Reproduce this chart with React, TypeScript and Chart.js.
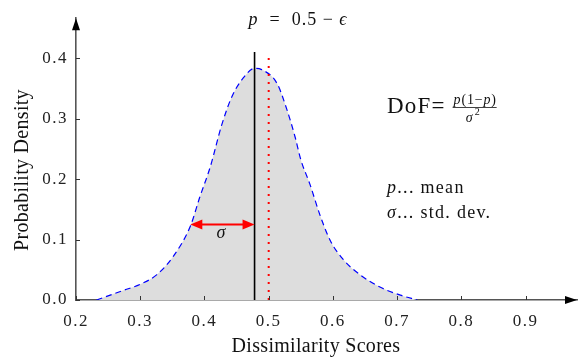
import React, { useEffect, useRef } from "react";
import { Chart, registerables } from "chart.js";

Chart.register(...registerables);

const curveX = [0.232, 0.274, 0.3, 0.326, 0.352, 0.378, 0.393, 0.409, 0.427, 0.443, 0.461, 0.478, 0.489, 0.513, 0.528, 0.541, 0.55, 0.564, 0.58, 0.596, 0.616, 0.642, 0.674, 0.705, 0.731];
const curveY = [0, 0.016, 0.026, 0.042, 0.073, 0.122, 0.171, 0.22, 0.29, 0.337, 0.368, 0.383, 0.381, 0.358, 0.316, 0.27, 0.232, 0.192, 0.14, 0.098, 0.067, 0.042, 0.021, 0.008, 0];
const xTickValues = [0.2, 0.3, 0.4, 0.5, 0.6, 0.7, 0.8, 0.9];
const yTickValues = [0, 0.1, 0.2, 0.3, 0.4];
const meanP = 0.478;
const meanTop = 0.41;
const refP = 0.5;
const refTop = 0.4;
const sigmaVal = 0.1;
const sigmaArrowY = 0.125;

const FONT = "'Liberation Serif', 'Times New Roman', serif";

export default function App() {
  const ref = useRef<HTMLCanvasElement | null>(null);

  useEffect(() => {
    if (!ref.current) return;
    const spacing = {
      id: "spacing",
      beforeDraw(chart: any) {
        (chart.ctx as any).letterSpacing = "1.5px";
      },
    };
    const annot = {
      id: "annot",
      afterDraw(chart: any) {
        const ctx = chart.ctx as any;
        const xs = chart.scales.x;
        const ys = chart.scales.y;
        const a = chart.chartArea;
        ctx.save();
        ctx.letterSpacing = "0px";
        // inward tick marks
        ctx.strokeStyle = "#333";
        ctx.lineWidth = 1;
        xTickValues.forEach((v) => {
          const px = Math.round(xs.getPixelForValue(v)) + 0.5;
          ctx.beginPath();
          ctx.moveTo(px, a.bottom);
          ctx.lineTo(px, a.bottom - 4);
          ctx.stroke();
        });
        yTickValues.forEach((v) => {
          const py = Math.round(ys.getPixelForValue(v)) + 0.5;
          ctx.beginPath();
          ctx.moveTo(a.left, py);
          ctx.lineTo(a.left + 4, py);
          ctx.stroke();
        });
        // axis arrows
        ctx.fillStyle = "#000";
        ctx.beginPath();
        ctx.moveTo(a.right, a.bottom);
        ctx.lineTo(a.right - 12, a.bottom - 4);
        ctx.lineTo(a.right - 12, a.bottom + 4);
        ctx.closePath();
        ctx.fill();
        ctx.beginPath();
        ctx.moveTo(a.left, a.top);
        ctx.lineTo(a.left - 4, a.top + 12);
        ctx.lineTo(a.left + 4, a.top + 12);
        ctx.closePath();
        ctx.fill();
        // sigma arrow
        const x1 = xs.getPixelForValue(meanP - sigmaVal);
        const x2 = xs.getPixelForValue(meanP);
        const ya = ys.getPixelForValue(sigmaArrowY);
        ctx.strokeStyle = "#ff0000";
        ctx.fillStyle = "#ff0000";
        ctx.lineWidth = 2;
        ctx.beginPath();
        ctx.moveTo(x1 + 8, ya);
        ctx.lineTo(x2 - 8, ya);
        ctx.stroke();
        ctx.beginPath();
        ctx.moveTo(x1, ya);
        ctx.lineTo(x1 + 12, ya - 5);
        ctx.lineTo(x1 + 12, ya + 5);
        ctx.closePath();
        ctx.fill();
        ctx.beginPath();
        ctx.moveTo(x2, ya);
        ctx.lineTo(x2 - 12, ya - 5);
        ctx.lineTo(x2 - 12, ya + 5);
        ctx.closePath();
        ctx.fill();
        // texts
        ctx.fillStyle = "#111";
        ctx.textBaseline = "alphabetic";
        ctx.textAlign = "left";
        const seq = (x: number, y: number, parts: [string, string][], ls = "1px") => {
          let cx = x;
          ctx.letterSpacing = ls;
          parts.forEach(([t, f]) => {
            ctx.font = f;
            ctx.fillText(t, cx, y);
            cx += ctx.measureText(t).width;
          });
          return cx;
        };
        const it17 = `italic 18px ${FONT}`;
        const rm17 = `18px ${FONT}`;
        // sigma label
        seq((x1 + x2) / 2 - 6, ya + 14, [["σ", it17]]);
        // top label
        seq(xs.getPixelForValue(meanP) - 6, 25, [["p", it17], ["  =  0.5 − ", rm17], ["ϵ", it17]]);
        // DoF
        const dEnd = seq(387, 113, [["DoF", `23px ${FONT}`], ["= ", `23px ${FONT}`]], "1.2px");
        const nEnd = seq(dEnd + 1, 104, [["p", `italic 14px ${FONT}`], ["(1−", `14px ${FONT}`], ["p", `italic 14px ${FONT}`], [")", `14px ${FONT}`]], "0.8px");
        ctx.strokeStyle = "#111";
        ctx.lineWidth = 0.8;
        ctx.beginPath();
        ctx.moveTo(dEnd, 107.5);
        ctx.lineTo(nEnd, 107.5);
        ctx.stroke();
        const mid = (dEnd + nEnd) / 2;
        seq(mid - 9, 122, [["σ", `italic 14px ${FONT}`]], "0px");
        ctx.font = `10px ${FONT}`;
        ctx.fillText("2", mid, 115);
        // legend text
        seq(387, 193, [["p", it17], ["... mean", rm17]], "1.3px");
        seq(387, 218, [["σ", it17], ["... std. dev.", rm17]], "1.3px");
        // axis titles
        ctx.letterSpacing = "0.3px";
        ctx.font = `20px ${FONT}`;
        ctx.textAlign = "center";
        ctx.fillText("Dissimilarity Scores", 316, 352);
        ctx.save();
        ctx.translate(28, 170);
        ctx.rotate(-Math.PI / 2);
        ctx.fillText("Probability Density", 0, 0);
        ctx.restore();
        ctx.restore();
      },
    };

    const chart = new Chart(ref.current, {
      type: "scatter",
      data: {
        datasets: [
          {
            type: "line",
            data: [{ x: meanP, y: 0 }, { x: meanP, y: meanTop }],
            borderColor: "#000",
            borderWidth: 1.6,
            pointRadius: 0,
            showLine: true,
          } as any,
          {
            type: "line",
            data: [{ x: refP, y: 0 }, { x: refP, y: refTop }],
            borderColor: "#ff0000",
            borderWidth: 2,
            borderDash: [2, 6],
            pointRadius: 0,
            showLine: true,
          } as any,
          {
            type: "line",
            data: curveX.map((x, i) => ({ x, y: curveY[i] })),
            borderColor: "#0000ff",
            borderWidth: 1.2,
            borderDash: [6, 4],
            backgroundColor: "#dddddd",
            fill: "origin",
            pointRadius: 0,
            cubicInterpolationMode: "monotone",
            showLine: true,
          } as any,
        ],
      },
      options: {
        animation: false,
        responsive: false,
        layout: { padding: { top: 0, right: 9, left: 0, bottom: 0 } },
        plugins: { legend: { display: false }, tooltip: { enabled: false } },
        scales: {
          x: {
            type: "linear",
            min: 0.2,
            max: 0.98,
            afterFit: (s: any) => { s.height = 60; },
            grid: { display: false, drawTicks: false },
            border: { display: true, color: "#555", width: 1.6 },
            ticks: {
              stepSize: 0.1,
              includeBounds: false,
              padding: 11,
              color: "#222",
              font: { family: FONT, size: 17 },
              callback: (v: any) => Number(v).toFixed(1),
              maxRotation: 0,
            },
          },
          y: {
            type: "linear",
            min: 0,
            max: 0.466,
            afterFit: (s: any) => { s.width = 76; },
            grid: { display: false, drawTicks: false },
            border: { display: true, color: "#555", width: 1.6 },
            ticks: {
              stepSize: 0.1,
              includeBounds: false,
              padding: 8,
              color: "#222",
              font: { family: FONT, size: 17 },
              callback: (v: any) => Number(v).toFixed(1),
            },
          },
        },
      } as any,
      plugins: [spacing, annot],
    });
    return () => chart.destroy();
  }, []);

  return (
    <div style={{ position: "absolute", left: 0, top: 0, width: 586, height: 360, background: "#fff" }}>
      <canvas ref={ref} width={586} height={360} />
    </div>
  );
}
